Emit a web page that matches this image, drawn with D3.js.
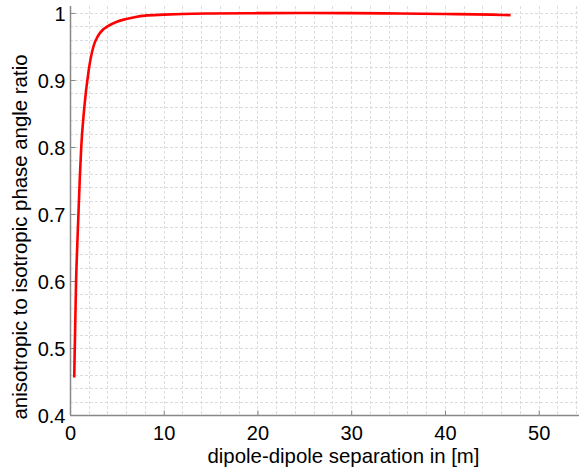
<!DOCTYPE html>
<html>
<head>
<meta charset="utf-8">
<script src="https://cdn.jsdelivr.net/npm/d3@7"></script>
<style>
  html, body { margin: 0; padding: 0; background: #fff; }
  svg { display: block; font-family: "Liberation Sans", Arial, sans-serif; }
</style>
</head>
<body>
<svg id="chart" width="579" height="473"></svg>
<script>
// Phase angle ratio versus dipole-dipole separation
const separation = [0.45, 0.55, 0.65, 0.78, 0.9, 1.05, 1.2, 1.5, 2, 2.5, 3, 3.5, 4, 5, 6, 7, 8, 10, 12, 15, 20, 25, 30, 35, 40, 45, 47];
const ratio      = [0.456, 0.53, 0.60, 0.655, 0.70, 0.755, 0.80, 0.855, 0.915, 0.95, 0.966, 0.975, 0.980, 0.987, 0.991, 0.994, 0.996, 0.9975, 0.9985, 0.9992, 0.9997, 1.0, 0.9998, 0.9993, 0.9985, 0.9975, 0.9968];

const xTicks = [0, 10, 20, 30, 40, 50];
const yTicks = [0.4, 0.5, 0.6, 0.7, 0.8, 0.9, 1];
const xLabel = "dipole-dipole separation in [m]";
const yLabel = "anisotropic to isotropic phase angle ratio";

const svg = d3.select("#chart");
const plot = { left: 70, right: 579, top: 6, bottom: 415 };

const x = d3.scaleLinear().domain([0, 54.3]).range([plot.left, plot.right]);
const y = d3.scaleLinear().domain([0.4, 1.0104]).range([plot.bottom, plot.top]);

// dashed grid (major and minor)
const grid = svg.append("g").attr("stroke", "#dcdcdc").attr("stroke-dasharray", "3,2").attr("stroke-width", 1);
d3.range(2, 55, 2).forEach(v => {
  const px = Math.round(x(v)) + 0.5;
  grid.append("line").attr("x1", px).attr("x2", px).attr("y1", plot.top).attr("y2", plot.bottom);
});
d3.range(0.42, 1.005, 0.02).forEach(v => {
  const py = Math.round(y(v)) + 0.5;
  grid.append("line").attr("x1", plot.left).attr("x2", plot.right).attr("y1", py).attr("y2", py);
});

// axes
const axisColor = "#888";
const xAxis = svg.append("g").attr("transform", `translate(0,${plot.bottom + 0.5})`)
  .call(d3.axisBottom(x).tickValues(xTicks).tickSize(-5).tickPadding(10).tickFormat(d3.format("d")));
const yAxis = svg.append("g").attr("transform", `translate(${plot.left + 0.5},0)`)
  .call(d3.axisLeft(y).tickValues(yTicks).tickSize(-5).tickPadding(5).tickFormat(d => d === 1 ? "1" : d3.format(".1f")(d)));

[xAxis, yAxis].forEach(g => {
  g.select(".domain").attr("stroke", axisColor).attr("stroke-width", 1.5);
  g.selectAll(".tick line").attr("stroke", axisColor);
  g.selectAll(".tick text").attr("fill", "#000").attr("font-size", 20)
    .attr("font-family", "Liberation Sans, Arial, sans-serif");
});
yAxis.selectAll(".tick text").attr("y", 1.5);
xAxis.select(".domain").attr("d", `M${plot.left},0H${plot.right}`);
yAxis.select(".domain").attr("d", `M0,${plot.bottom}V${plot.top}`);

// curve
const line = d3.line().x(d => x(d[0])).y(d => y(d[1])).curve(d3.curveMonotoneX);
svg.append("path")
  .datum(separation.map((s, i) => [s, ratio[i]]))
  .attr("fill", "none")
  .attr("stroke", "#ff0000")
  .attr("stroke-width", 2.6)
  .attr("d", line);

// axis titles
svg.append("text")
  .attr("x", 343.5).attr("y", 463)
  .attr("text-anchor", "middle").attr("font-size", 20.4).attr("fill", "#000")
  .text(xLabel);
svg.append("text")
  .attr("transform", "translate(27,237) rotate(-90)")
  .attr("text-anchor", "middle").attr("font-size", 20.4).attr("fill", "#000")
  .text(yLabel);
</script>
</body>
</html>
